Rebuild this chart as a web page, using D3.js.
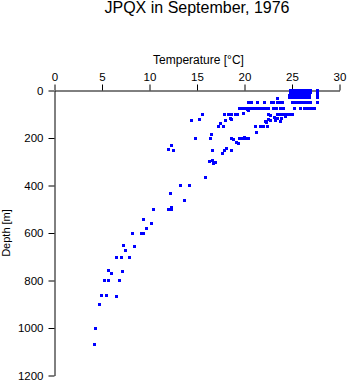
<!DOCTYPE html>
<html>
<head>
<meta charset="utf-8">
<script src="https://cdn.jsdelivr.net/npm/d3@7"></script>
<style>
  html, body { margin: 0; padding: 0; background: #fff; }
  svg { display: block; }
  text { font-family: "Liberation Sans", Arial, Helvetica, sans-serif; fill: #000; }
</style>
</head>
<body>
<svg id="chart" width="348" height="384"></svg>
<script>
// ---- Data ----
const title = "JPQX in September, 1976";
const xLabel = "Temperature [°C]";
const yLabel = "Depth [m]";
const xTicks = [0, 5, 10, 15, 20, 25, 30];
const yTicks = [0, 200, 400, 600, 800, 1000, 1200];

// Temperature (°C) observations, paired with depths (m) below
const temps = [
  // 0 m
  24.8, 25.1, 25.4, 25.7, 26.0, 26.3, 26.6, 26.9, 27.7,
  // 10 m
  24.8, 25.1, 25.4, 25.7, 26.0, 26.3, 26.6, 26.9, 27.7,
  // 20 m
  24.7, 25.0, 25.3, 25.6, 25.9, 26.2, 26.5, 26.8, 27.7,
  // 30 m
  23.5, 24.7, 25.0, 25.3, 25.6, 25.9, 26.2, 26.5, 26.8, 27.7,
  // 50 m
  20.4, 20.7, 21.4, 22.1, 22.8, 23.1, 23.5, 23.8, 24.0, 25.1, 25.4, 25.7, 26.0, 26.3, 26.6, 26.9, 27.7,
  // 75 m
  19.5, 19.8, 20.1, 20.4, 20.7, 21.0, 21.3, 21.6, 21.9, 22.2, 22.5, 23.1, 23.4, 23.8, 24.1, 25.3, 25.9, 26.3, 26.6, 26.9, 27.2, 27.4,
  // ~80-100 m
  20.3, 20.4, 19.9, 15.6, 17.9, 18.3, 18.6, 19.0, 19.3, 22.5, 22.7, 23.5, 23.8, 24.1, 24.4, 24.7, 25.0,
  // ~110-140 m
  14.4, 15.3, 18.5, 18.6, 17.5, 18.0, 22.5, 22.7, 22.3, 22.2, 23.2, 23.5, 23.9, 23.3, 23.8, 24.3,
  // ~150 m
  17.3, 17.8, 21.2, 21.7, 22.0, 22.4,
  // ~175-220 m
  21.3, 16.5, 14.8, 16.4, 18.6, 18.8, 19.5, 19.8, 20.1, 20.4, 20.0, 19.2, 19.4,
  // ~230-270 m
  12.3, 12.0, 12.5, 16.6, 17.9, 18.6, 17.7, 18.1,
  // ~300-370 m
  16.3, 16.6, 16.9, 16.7, 15.9,
  // 400-500 m
  13.3, 14.2, 12.2, 13.7, 10.4, 12.0, 12.3, 12.3,
  // 540-700 m
  9.4, 10.2, 9.7, 8.2, 9.2, 9.4, 7.3, 8.4, 7.5, 6.5, 7.0, 7.9,
  // 750-1100 m
  5.7, 6.0, 7.2, 5.3, 5.7, 6.8, 4.9, 5.5, 6.5, 4.7, 4.3, 4.2
];
const depths = [
  0, 0, 0, 0, 0, 0, 0, 0, 0,
  10, 10, 10, 10, 10, 10, 10, 10, 10,
  20, 20, 20, 20, 20, 20, 20, 20, 20,
  32, 30, 30, 30, 30, 30, 30, 30, 30, 30,
  50, 50, 50, 50, 50, 50, 50, 50, 50, 50, 50, 50, 50, 50, 50, 50, 50,
  77, 77, 77, 77, 77, 77, 77, 77, 77, 77, 77, 77, 77, 77, 77, 77, 77, 77, 77, 77, 77, 77,
  82, 86, 98, 102, 102, 102, 102, 102, 102, 100, 104, 101, 101, 101, 101, 101, 101,
  128, 124, 117, 121, 140, 128, 124, 128, 136, 132, 112, 118, 118, 128, 130, 110,
  153, 153, 153, 153, 153, 153,
  178, 185, 203, 203, 201, 205, 203, 203, 203, 203, 196, 218, 222,
  232, 250, 254, 254, 254, 254, 267, 245,
  300, 296, 304, 306, 368,
  401, 401, 435, 463, 502, 502, 493, 502,
  544, 561, 582, 604, 604, 604, 651, 658, 673, 702, 702, 702,
  758, 771, 762, 801, 801, 801, 863, 865, 869, 902, 1001, 1071
];

// ---- Chart ----
(function () {
  const svg = d3.select("#chart");
  const pl = 54.5, pr = 339.5, pt = 90.5, pb = 375.5;

  const x = d3.scaleLinear().domain([0, 30]).range([pl, pr]);
  const y = d3.scaleLinear().domain([0, 1200]).range([pt, pb]);

  svg.append("text")
    .attr("x", (pl + pr) / 2).attr("y", 13)
    .attr("text-anchor", "middle")
    .style("font-size", "16px")
    .text(title);

  svg.append("text")
    .attr("x", (pl + pr) / 2 + 1.5).attr("y", 64)
    .attr("text-anchor", "middle")
    .style("font-size", "12px")
    .text(xLabel);

  svg.append("text")
    .attr("transform", `translate(10,${(pt + pb) / 2}) rotate(-90)`)
    .attr("text-anchor", "middle")
    .style("font-size", "11px")
    .text(yLabel);

  const xAxis = svg.append("g")
    .attr("transform", `translate(0,${pt})`)
    .call(d3.axisTop(x).tickValues(xTicks).tickFormat(d3.format("d")).tickSize(6).tickSizeOuter(0).tickPadding(4));
  const yAxis = svg.append("g")
    .attr("transform", `translate(${pl},0)`)
    .call(d3.axisLeft(y).tickValues(yTicks).tickFormat(d3.format("d")).tickSize(6).tickSizeOuter(0).tickPadding(5));

  [xAxis, yAxis].forEach(g => {
    g.selectAll("text").style("font-size", "11.5px").style("font-family", '"Liberation Sans", Arial, sans-serif').attr("fill", "#000");
    g.selectAll("line").attr("stroke", "#000").attr("stroke-width", 1);
    g.select(".domain").attr("stroke", "#000").attr("stroke-width", 1);
  });

  const pts = temps.map((t, i) => ({ t, d: depths[i] }));
  svg.append("g")
    .selectAll("rect")
    .data(pts)
    .join("rect")
    .attr("x", p => Math.round(x(p.t) - 1.5))
    .attr("y", p => Math.round(y(p.d) - 1.5))
    .attr("width", 3)
    .attr("height", 3)
    .attr("fill", "#0000ff");
})();
</script>
</body>
</html>
